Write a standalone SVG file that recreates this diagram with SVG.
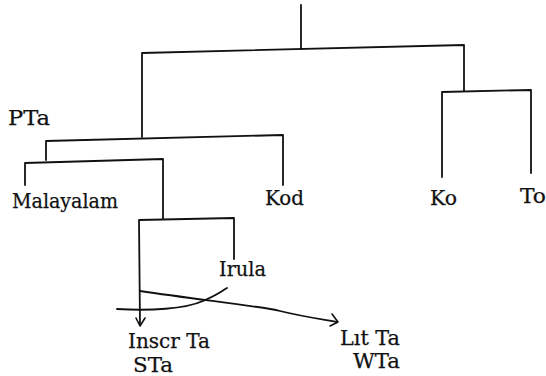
<svg xmlns="http://www.w3.org/2000/svg" width="546" height="376" viewBox="0 0 546 376">
<style>
.ln{fill:none;stroke:#111;stroke-width:1.8;stroke-linecap:round;stroke-linejoin:round}
.ah{fill:none;stroke:#111;stroke-width:1.6;stroke-linecap:round;stroke-linejoin:round}
text{font-family:"DejaVu Serif","Liberation Serif",serif;font-size:20px;fill:#111;stroke:#111;stroke-width:0.25}
</style>
<rect width="546" height="376" fill="#fff"/>
<g id="connectors">
<path class="ln" d="M301,5 L301,49"/>
<path class="ln" d="M142,137 L142,53 L464,45 L464,91"/>
<path class="ln" d="M442,177 L442,92 L531,90 L531,173"/>
<path class="ln" d="M46,160 L46,141 L283,135 L283,185"/>
<path class="ln" d="M25,185 L25,163 L163,159 L163,219"/>
<path class="ln" d="M140,325 L139,220 L234,218 L234,259"/>
<path class="ln" d="M140,291 C200,300 260,306 280,311 S320,319 337,322"/>
<path class="ln" d="M117,309 C150,311 185,309 203,301 S220,292 227,288"/>
<path class="ah" d="M136,318 L140,326 L145,318"/>
<path class="ah" d="M332,314 L338,322 L330,326"/>
</g>
<g id="node-pta"><text x="8" y="125" textLength="42" lengthAdjust="spacingAndGlyphs">PTa</text></g>
<g id="node-malayalam"><text x="12" y="208" textLength="106" lengthAdjust="spacingAndGlyphs">Malayalam</text></g>
<g id="node-kod"><text x="265" y="205" textLength="39" lengthAdjust="spacingAndGlyphs">Kod</text></g>
<g id="node-ko"><text x="430" y="205" textLength="27" lengthAdjust="spacingAndGlyphs">Ko</text></g>
<g id="node-to"><text x="520" y="203" textLength="26" lengthAdjust="spacingAndGlyphs">To</text></g>
<g id="node-irula"><text x="219" y="276" textLength="47" lengthAdjust="spacingAndGlyphs">Irula</text></g>
<g id="node-inscr"><text x="128" y="348" textLength="82" lengthAdjust="spacingAndGlyphs">Inscr Ta</text><text x="133" y="372" textLength="40" lengthAdjust="spacingAndGlyphs">STa</text></g>
<g id="node-lit"><text x="340" y="345" textLength="60" lengthAdjust="spacingAndGlyphs">Lıt Ta</text><text x="353" y="368" textLength="47" lengthAdjust="spacingAndGlyphs">WTa</text></g>
</svg>
